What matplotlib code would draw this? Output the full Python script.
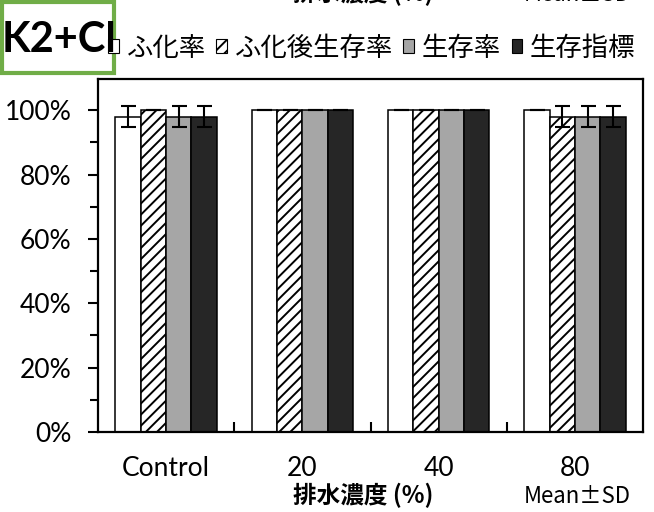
import matplotlib
matplotlib.use("Agg")
import matplotlib.pyplot as plt
from matplotlib.patches import Rectangle, Patch
import numpy as np

# data
categories = ["Control", "20", "40", "80"]
series_names = ["ふ化率", "ふ化後生存率", "生存率", "生存指標"]
hatch_rate = [0.98, 1.00, 1.00, 1.00]
post_hatch = [1.00, 1.00, 1.00, 0.98]
survival = [0.98, 1.00, 1.00, 0.98]
survival_idx = [0.98, 1.00, 1.00, 0.98]
sd_hatch_rate = [0.032, 0.0, 0.0, 0.0]
sd_post_hatch = [0.0, 0.0, 0.0, 0.032]
sd_survival = [0.032, 0.0, 0.0, 0.032]
sd_survival_idx = [0.032, 0.0, 0.0, 0.032]
y_ticks = [0, 0.2, 0.4, 0.6, 0.8, 1.0]
y_ticklabels = ["0%", "20%", "40%", "60%", "80%", "100%"]

values = [hatch_rate, post_hatch, survival, survival_idx]
errors = [sd_hatch_rate, sd_post_hatch, sd_survival, sd_survival_idx]
face_colors = ["white", "white", "#a6a6a6", "#262626"]
hatches = [None, "///", None, None]

jp = ["Noto Sans CJK JP", "DejaVu Sans"]
latin = ["Lato", "Noto Sans CJK JP", "DejaVu Sans"]
plt.rcParams["hatch.linewidth"] = 1.4
plt.rcParams["hatch.color"] = "black"

fig = plt.figure(figsize=(6.54, 5.12), dpi=100)
ax = fig.add_axes([98 / 654, 1 - 432 / 512, 545 / 654, 353 / 512])

x = np.arange(len(categories))
width = 0.186
for i in range(4):
    ax.bar(x + (i - 1.5) * width, values[i], width, color=face_colors[i],
           edgecolor="black", linewidth=1.1, hatch=hatches[i], zorder=2)
    ax.errorbar(x + (i - 1.5) * width, values[i], yerr=errors[i], fmt="none",
                ecolor="black", elinewidth=1.5, capsize=5.4, capthick=1.5, zorder=3)

ax.set_xlim(-0.5, 3.5)
ax.set_ylim(0, 1.097)
ax.set_yticks(y_ticks)
ax.set_yticklabels(y_ticklabels, fontsize=19, family=latin)
ax.set_yticks(np.arange(0.1, 1.0, 0.2), minor=True)
ax.tick_params(axis="y", which="major", direction="out", length=7, width=1.5, pad=12)
ax.tick_params(axis="y", which="minor", direction="out", length=6, width=1.5)

ax.set_xticks(x)
ax.set_xticklabels(categories, fontsize=19, family=latin)
ax.set_xticks([0.5, 1.5, 2.5], minor=True)
ax.tick_params(axis="x", which="major", length=0, pad=17)
ax.tick_params(axis="x", which="minor", direction="in", length=7, width=1.5)

for s in ax.spines.values():
    s.set_linewidth(1.6)

# legend
handles = [Patch(facecolor=face_colors[i], edgecolor="black", hatch=hatches[i], linewidth=0.8)
           for i in range(4)]
fig.legend(handles, series_names, loc="center left", bbox_to_anchor=(108 / 654, 1 - 48 / 512),
           ncol=4, frameon=False, prop={"family": jp, "size": 19},
           handlelength=0.4, handleheight=0.4, handletextpad=0.3, columnspacing=0.4,
           borderaxespad=0, borderpad=0)

# title box
fig.patches.append(Rectangle((2 / 654, 1 - 73 / 512), 112 / 654, 71 / 512,
                             transform=fig.transFigure, facecolor="white",
                             edgecolor="#70ad47", linewidth=3, zorder=5))
fig.text(59 / 654, 1 - 40 / 512, "K2+Cl", fontsize=30, fontweight="bold", family=latin,
         ha="center", va="center", zorder=6)

# bottom labels
fig.text(363 / 654, 4 / 512, "排水濃度 (%)", fontsize=17, fontweight="bold", family=jp,
         ha="center", va="bottom")
fig.text(577 / 654, 4 / 512, "Mean\u00b1SD", fontsize=16, family=jp, ha="center", va="bottom")

# cut-off labels at the top
fig.text(363 / 654, 1 - 6 / 512, "排水濃度 (%)", fontsize=17, fontweight="bold", family=jp,
         ha="center", va="bottom")
fig.text(577 / 654, 1 - 6 / 512, "Mean\u00b1SD", fontsize=16, family=jp, ha="center", va="bottom")

fig.savefig("out.png", dpi=100)
